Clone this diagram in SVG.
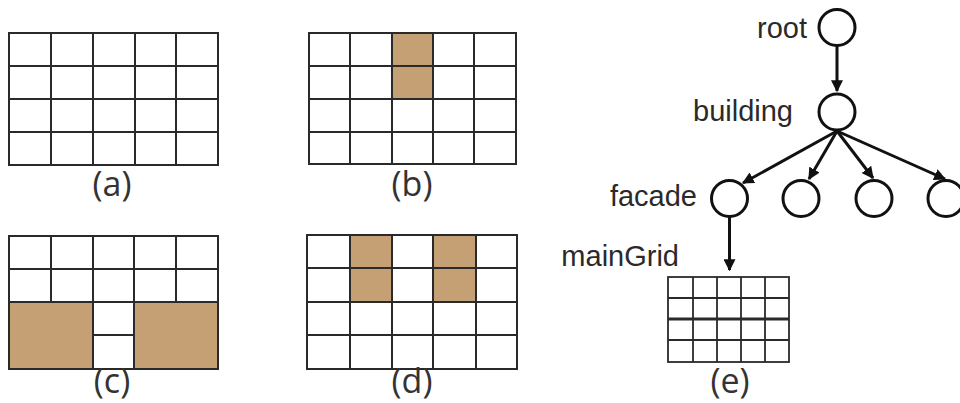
<svg xmlns="http://www.w3.org/2000/svg" width="960" height="403" viewBox="0 0 960 403">
<defs>
<style>
.g{fill:none;stroke:#2a2a2a;stroke-width:2}
.f{fill:#c4a074;stroke:none}
.lab{font-family:"Open Sans",sans-serif;font-size:34px;fill:#333;text-anchor:middle}
.t{font-family:"Liberation Sans",Arial,sans-serif;font-size:29px;fill:#2a2a2a;text-anchor:end}
.n{fill:#fff;stroke:#111;stroke-width:3}
.e{fill:none;stroke:#111;stroke-width:3}
</style>
<marker id="ah" viewBox="0 0 10 10" refX="9" refY="5" markerWidth="4" markerHeight="4" orient="auto" markerUnits="strokeWidth">
<path d="M0,0 L10,5 L0,10 z" fill="#111"/>
</marker>
</defs>
<rect width="960" height="403" fill="#fff"/>

<g id="grid-a">
<rect x="9" y="33" width="209" height="132" class="g"/>
<path class="g" d="M51,33V165M93,33V165M135,33V165M176,33V165M9,66H218M9,99H218M9,132H218"/>
<text class="lab" x="112" y="196">(a)</text>
</g>

<g id="grid-b">
<rect class="f" x="392" y="33" width="41" height="66"/>
<rect x="309" y="33" width="207" height="131" class="g"/>
<path class="g" d="M350,33V164M392,33V164M433,33V164M474,33V164M309,66H516M309,99H516M309,132H516"/>
<text class="lab" x="412" y="196">(b)</text>
</g>

<g id="grid-c">
<rect class="f" x="9" y="302" width="84" height="67"/>
<rect class="f" x="134" y="302" width="84" height="67"/>
<rect x="9" y="236" width="209" height="133" class="g"/>
<path class="g" d="M51,236V302M93,236V369M134,236V369M176,236V302M9,269H218M9,302H218M93,335H134"/>
<text class="lab" x="112" y="393">(c)</text>
</g>

<g id="grid-d">
<rect class="f" x="350" y="235" width="42" height="67"/>
<rect class="f" x="433" y="235" width="43" height="67"/>
<rect x="307" y="235" width="210" height="134" class="g"/>
<path class="g" d="M350,235V369M392,235V369M433,235V369M476,235V369M307,268H517M307,302H517M307,335H517"/>
<text class="lab" x="412" y="393">(d)</text>
</g>

<g id="connectors">
<line class="e" x1="837" y1="46" x2="837" y2="91" marker-end="url(#ah)"/>
<line class="e" x1="837" y1="131" x2="743" y2="183" marker-end="url(#ah)"/>
<line class="e" x1="837" y1="131" x2="809" y2="179" marker-end="url(#ah)"/>
<line class="e" x1="837" y1="131" x2="873" y2="178" marker-end="url(#ah)"/>
<line class="e" x1="837" y1="131" x2="945" y2="179" marker-end="url(#ah)"/>
<line class="e" x1="729.5" y1="217" x2="729.5" y2="270" marker-end="url(#ah)"/>
</g>

<g id="node-root">
<circle class="n" cx="837" cy="27.5" r="18"/>
<text class="t" x="807" y="38">root</text>
</g>
<g id="node-building">
<circle class="n" cx="837" cy="112" r="18"/>
<text class="t" x="793" y="121">building</text>
</g>
<g id="node-facade">
<circle class="n" cx="729.5" cy="198.5" r="18"/>
<text class="t" x="697" y="206">facade</text>
</g>
<g id="node-2"><circle class="n" cx="801" cy="198.5" r="18"/></g>
<g id="node-3"><circle class="n" cx="874" cy="198.5" r="18"/></g>
<g id="node-4"><circle class="n" cx="946" cy="198.5" r="18"/></g>

<g id="node-mainGrid">
<text class="t" x="679" y="266">mainGrid</text>
<rect x="668" y="277" width="121" height="85" class="g" style="stroke-width:1.8"/>
<path class="g" style="stroke-width:1.8" d="M693,277V362M717,277V362M741,277V362M765,277V362M668,298H789M668,340H789"/>
<path class="g" style="stroke-width:3" d="M668,319H789"/>
<text class="lab" x="730" y="393">(e)</text>
</g>
</svg>
